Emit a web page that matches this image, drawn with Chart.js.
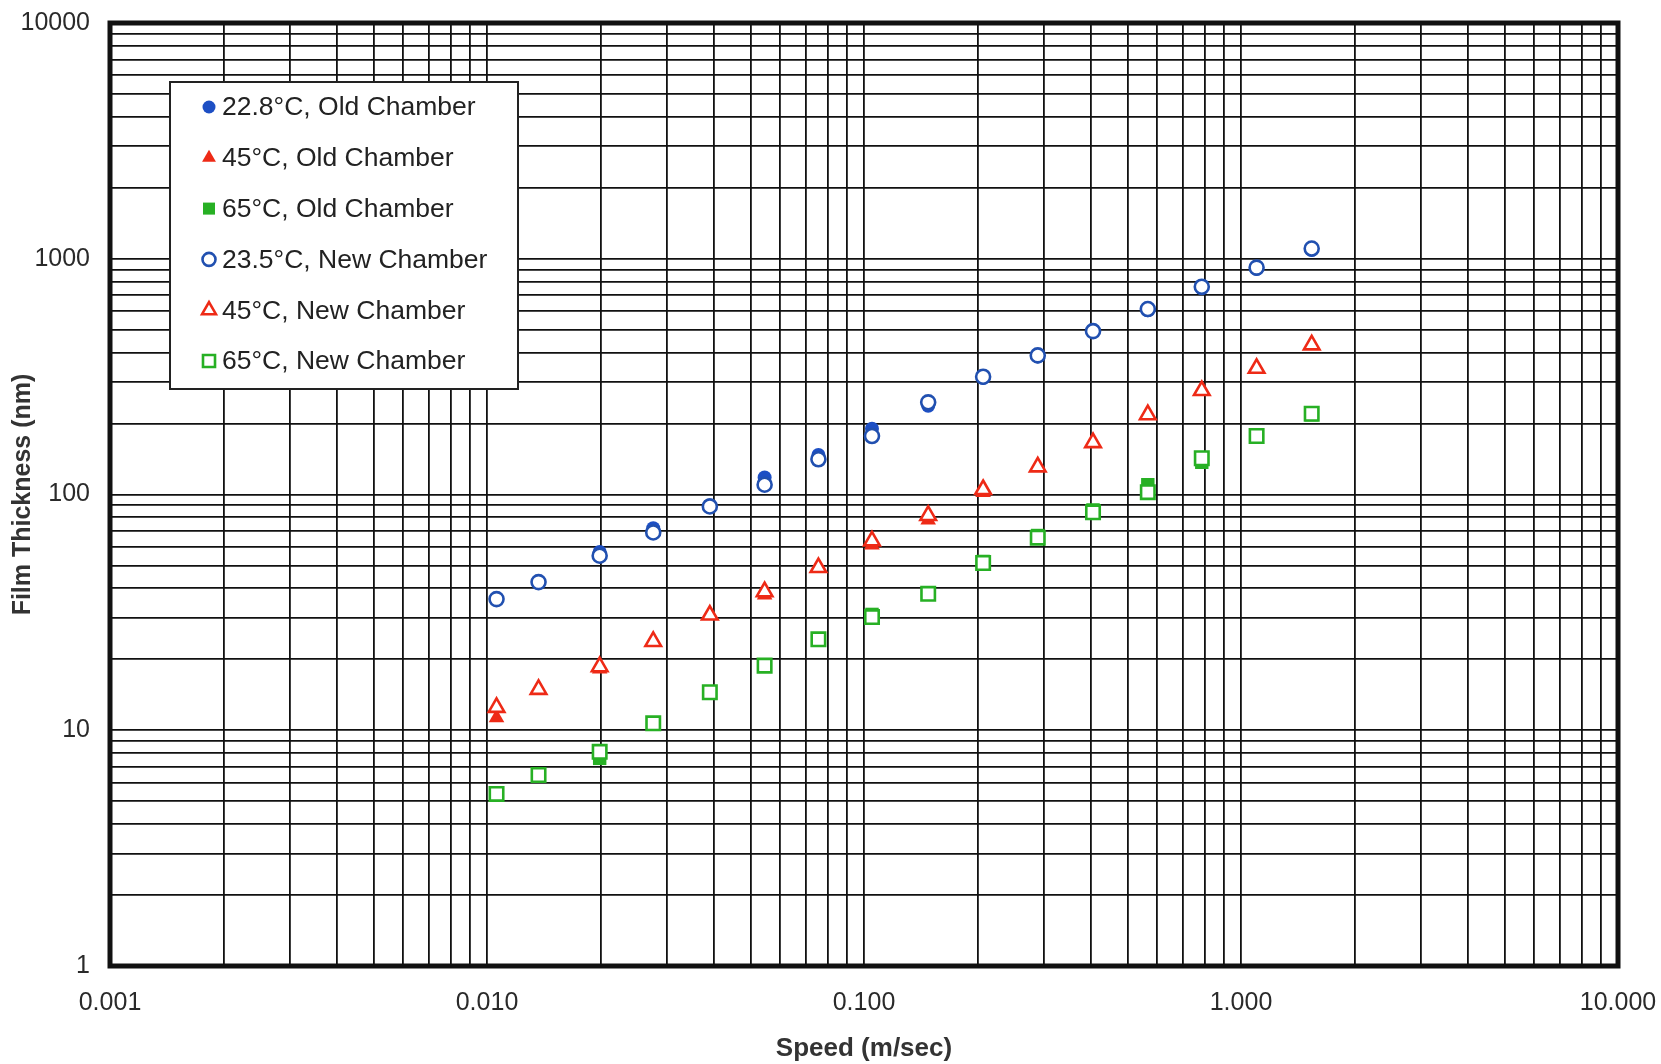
<!DOCTYPE html>
<html>
<head>
<meta charset="utf-8">
<script src="https://cdn.jsdelivr.net/npm/chart.js@4.4.1/dist/chart.umd.min.js"></script>
<style>
  html, body { margin: 0; padding: 0; background: #fff; }
  #wrap { width: 1661px; height: 1064px; }
</style>
</head>
<body>
<div id="wrap"><canvas id="filmChart" width="1661" height="1064"></canvas></div>
<script>
// speeds in m/sec (same for all runs)
const speed = [0.0106, 0.0137, 0.0199, 0.0276, 0.039, 0.0545, 0.0757, 0.105, 0.148, 0.207, 0.289, 0.405, 0.566, 0.787, 1.10, 1.54];

// film thickness in nm
const old228 = [36, 42.5, 57, 72, 90, 118, 147, 190, 238, 312, 385, 490, 605, 750, 905, 1090];
const new235 = [36, 42.5, 55, 69, 89, 110, 141, 177, 246, 316, 389, 493, 612, 761, 917, 1105];
const old45 = [11.3, 14.9, 18.2, 23.8, 30.8, 37.5, 49, 61, 78, 102, 131, 166, 218, 276, 343, 431];
const new45 = [12.5, 14.9, 18.6, 23.8, 30.8, 38.7, 49, 63.6, 81.5, 105, 131, 166, 218, 276, 343, 431];
const old65 = [5.37, 6.46, 7.6, 10.7, 14.5, 18.8, 24.3, 31, 37.9, 52, 67, 86, 110, 137, 175, 218];
const new65 = [5.37, 6.46, 8.1, 10.7, 14.5, 18.8, 24.3, 30.2, 37.9, 51.2, 65.6, 84, 102.3, 142.5, 177, 220];

const seriesNames = ['22.8°C, Old Chamber', '45°C, Old Chamber', '65°C, Old Chamber',
                     '23.5°C, New Chamber', '45°C, New Chamber', '65°C, New Chamber'];

const xTickValues = [0.001, 0.01, 0.1, 1, 10];
const xTickLabels = ['0.001', '0.010', '0.100', '1.000', '10.000'];
const yTickValues = [1, 10, 100, 1000, 10000];
const yTickLabels = ['1', '10', '100', '1000', '10000'];

const BLUE = '#1d4fc4';
const BLUE_OPEN = '#2150b0';
const RED = '#ee2a16';
const GREEN = '#27b024';

const FONT = '"Liberation Sans", Arial, sans-serif';

function toPoints(ys) {
    return speed.map((s, i) => ({ x: s, y: ys[i] }));
}

// every 1..9 x 10^n between min and max, for the log grid
function logGrid(min, max) {
    const out = [];
    for (let e = Math.round(Math.log10(min)); e < Math.round(Math.log10(max)); e++) {
        for (let m = 1; m < 10; m++) out.push({ value: m * Math.pow(10, e) });
    }
    out.push({ value: max });
    return out;
}

function labelFor(values, labels) {
    return (v) => {
        const i = values.findIndex(t => Math.abs(Math.log10(t) - Math.log10(v)) < 1e-9);
        return i >= 0 ? labels[i] : '';
    };
}

const xLabel = labelFor(xTickValues, xTickLabels);
const yLabel = labelFor(yTickValues, yTickLabels);

// thick frame around the plot area
const framePlugin = {
    id: 'frame',
    afterDatasetsDraw(chart) {
        const { ctx, chartArea: a } = chart;
        ctx.save();
        ctx.strokeStyle = '#111';
        ctx.lineWidth = 5;
        ctx.strokeRect(a.left, a.top, a.right - a.left, a.bottom - a.top);
        ctx.restore();
    }
};

function drawMarker(ctx, style, x, y, r, fill, stroke, lw) {
    ctx.beginPath();
    if (style === 'circle') {
        ctx.arc(x, y, r, 0, Math.PI * 2);
    } else if (style === 'triangle') {
        ctx.moveTo(x, y - r);
        ctx.lineTo(x + r * 0.866, y + r * 0.5);
        ctx.lineTo(x - r * 0.866, y + r * 0.5);
        ctx.closePath();
    } else {
        const s = r * Math.SQRT1_2;
        ctx.rect(x - s, y - s, 2 * s, 2 * s);
    }
    ctx.fillStyle = fill;
    ctx.fill();
    if (lw > 0) {
        ctx.lineWidth = lw;
        ctx.strokeStyle = stroke;
        ctx.stroke();
    }
}

// boxed legend inside the plot area
const legendPlugin = {
    id: 'boxLegend',
    afterDraw(chart) {
        const { ctx } = chart;
        const bx = 170, by = 82, bw = 348, bh = 307;
        ctx.save();
        ctx.fillStyle = '#fff';
        ctx.fillRect(bx, by, bw, bh);
        ctx.lineWidth = 2;
        ctx.strokeStyle = '#222';
        ctx.strokeRect(bx, by, bw, bh);
        ctx.font = '26.5px ' + FONT;
        ctx.textBaseline = 'middle';
        chart.data.datasets.forEach((ds, i) => {
            const y = 107 + i * 50.8;
            const r = ds.pointStyle === 'rect' ? 8.5 : (ds.pointStyle === 'triangle' ? 8 : 6.5);
            drawMarker(ctx, ds.pointStyle, 209, y, r, ds.backgroundColor, ds.borderColor, ds.borderWidth);
            ctx.fillStyle = '#222';
            ctx.fillText(ds.label, 222, y + 1);
        });
        ctx.restore();
    }
};

function makeSet(label, ys, style, color, open) {
    const r = style === 'rect' ? 9.5 : (style === 'triangle' ? 9 : 7);
    return {
        label: label,
        data: toPoints(ys),
        pointStyle: style,
        pointRadius: r,
        backgroundColor: open ? '#fff' : color,
        borderColor: color,
        borderWidth: open ? 2.6 : 0,
        showLine: false,
        order: open ? 0 : 1 // new chamber drawn on top of old
    };
}

const ctx = document.getElementById('filmChart').getContext('2d');
new Chart(ctx, {
    type: 'scatter',
    data: {
        datasets: [
            makeSet(seriesNames[0], old228, 'circle', BLUE, false),
            makeSet(seriesNames[1], old45, 'triangle', RED, false),
            makeSet(seriesNames[2], old65, 'rect', GREEN, false),
            makeSet(seriesNames[3], new235, 'circle', BLUE_OPEN, true),
            makeSet(seriesNames[4], new45, 'triangle', RED, true),
            makeSet(seriesNames[5], new65, 'rect', GREEN, true)
        ]
    },
    options: {
        responsive: false,
        animation: false,
        layout: { padding: { left: 0, right: 43, top: 23, bottom: 0 } },
        plugins: {
            legend: { display: false },
            tooltip: { enabled: false }
        },
        scales: {
            x: {
                type: 'logarithmic',
                min: 0.001,
                max: 10,
                afterBuildTicks: (s) => { s.ticks = logGrid(0.001, 10); },
                afterFit: (s) => { s.height = 98; s.paddingLeft = 0; s.paddingRight = 0; },
                grid: { color: '#111', lineWidth: 1.8, drawTicks: false },
                border: { display: false },
                ticks: {
                    autoSkip: false,
                    maxRotation: 0,
                    padding: 22,
                    color: '#2a2a2a',
                    font: { family: FONT, size: 25 },
                    callback: (v) => xLabel(v)
                },
                title: {
                    display: true,
                    text: 'Speed (m/sec)',
                    color: '#333',
                    font: { family: FONT, size: 26, weight: 'bold' },
                    padding: { top: 0, bottom: 0 }
                }
            },
            y: {
                type: 'logarithmic',
                min: 1,
                max: 10000,
                afterBuildTicks: (s) => { s.ticks = logGrid(1, 10000); },
                afterFit: (s) => { s.width = 110; s.paddingTop = 0; s.paddingBottom = 0; },
                grid: { color: '#111', lineWidth: 1.8, drawTicks: false },
                border: { display: false },
                ticks: {
                    autoSkip: false,
                    padding: 20,
                    color: '#2a2a2a',
                    font: { family: FONT, size: 25 },
                    callback: (v) => yLabel(v)
                },
                title: {
                    display: true,
                    text: 'Film Thickness (nm)',
                    color: '#333',
                    font: { family: FONT, size: 25, weight: 'bold' },
                    padding: { top: 8, bottom: 0 }
                }
            }
        }
    },
    plugins: [framePlugin, legendPlugin]
});
</script>
</body>
</html>
